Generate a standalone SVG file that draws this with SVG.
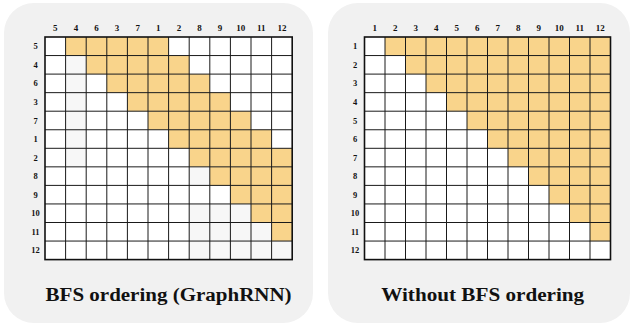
<svg xmlns="http://www.w3.org/2000/svg" width="631" height="324" viewBox="0 0 631 324">
<style>
.bg{fill:#f1f1f1}
.org{fill:#f9d48b}
.gry{fill:#f7f7f7}
.cell{fill:#ffffff}
.grid{fill:none;stroke:#1a1a1a;stroke-width:1}
.frame{fill:none;stroke:#111;stroke-width:1.6}
.lbl{font-family:"Liberation Serif","Times New Roman",serif;font-weight:bold;font-size:9px;fill:#111;text-anchor:middle}
.rl{font-size:8.5px}
.title{font-family:"Liberation Serif","Times New Roman",serif;font-weight:bold;font-size:18px;fill:#111;text-anchor:middle}
</style>
<g id="panel-bfs">
<rect class="bg" x="4" y="3" width="309" height="320" rx="30"/>
<rect class="cell" x="45" y="37" width="247.2" height="222.6"/>
<g id="bfs-orange">
<rect class="org" x="65.6" y="37" width="103" height="18.55"/>
<rect class="org" x="86.2" y="55.55" width="103" height="18.55"/>
<rect class="org" x="106.8" y="74.1" width="103" height="18.55"/>
<rect class="org" x="127.4" y="92.65" width="103" height="18.55"/>
<rect class="org" x="148" y="111.2" width="103" height="18.55"/>
<rect class="org" x="168.6" y="129.75" width="103" height="18.55"/>
<rect class="org" x="189.2" y="148.3" width="103" height="18.55"/>
<rect class="org" x="209.8" y="166.85" width="82.4" height="18.55"/>
<rect class="org" x="230.4" y="185.4" width="61.8" height="18.55"/>
<rect class="org" x="251" y="203.95" width="41.2" height="18.55"/>
<rect class="org" x="271.6" y="222.5" width="20.6" height="18.55"/>
</g>
<g id="bfs-grey">
<rect class="gry" x="65.6" y="55.55" width="20.6" height="111.3"/>
<rect class="gry" x="189.2" y="166.85" width="20.6" height="18.55"/>
<rect class="gry" x="189.2" y="203.95" width="61.8" height="18.55"/>
<rect class="gry" x="189.2" y="222.5" width="82.4" height="18.55"/>
<rect class="gry" x="189.2" y="241.05" width="103" height="18.55"/>
</g>
<path class="grid" d="M65.6 37V259.6M86.2 37V259.6M106.8 37V259.6M127.4 37V259.6M148 37V259.6M168.6 37V259.6M189.2 37V259.6M209.8 37V259.6M230.4 37V259.6M251 37V259.6M271.6 37V259.6M45 55.55H292.2M45 74.1H292.2M45 92.65H292.2M45 111.2H292.2M45 129.75H292.2M45 148.3H292.2M45 166.85H292.2M45 185.4H292.2M45 203.95H292.2M45 222.5H292.2M45 241.05H292.2"/>
<rect class="frame" x="45" y="37" width="247.2" height="222.6"/>
<g id="bfs-col-labels" class="lbl">
<text x="55.3" y="30.5">5</text><text x="75.9" y="30.5">4</text><text x="96.5" y="30.5">6</text><text x="117.1" y="30.5">3</text><text x="137.7" y="30.5">7</text><text x="158.3" y="30.5">1</text><text x="178.9" y="30.5">2</text><text x="199.5" y="30.5">8</text><text x="220.1" y="30.5">9</text><text x="240.7" y="30.5">10</text><text x="261.3" y="30.5">11</text><text x="281.9" y="30.5">12</text>
</g>
<g id="bfs-row-labels" class="lbl rl">
<text x="35.5" y="49.3">5</text><text x="35.5" y="67.8">4</text><text x="35.5" y="86.4">6</text><text x="35.5" y="104.9">3</text><text x="35.5" y="123.5">7</text><text x="35.5" y="142">1</text><text x="35.5" y="160.6">2</text><text x="35.5" y="179.1">8</text><text x="35.5" y="197.7">9</text><text x="35.5" y="216.2">10</text><text x="35.5" y="234.8">11</text><text x="35.5" y="253.3">12</text>
</g>
<text class="title" x="168.6" y="301" textLength="246" lengthAdjust="spacingAndGlyphs">BFS ordering (GraphRNN)</text>
</g>
<g id="panel-nobfs">
<rect class="bg" x="328" y="3" width="302" height="320" rx="30"/>
<rect class="cell" x="364.5" y="37" width="246" height="222.6"/>
<g id="nobfs-orange">
<rect class="org" x="385" y="37" width="225.5" height="18.55"/>
<rect class="org" x="405.5" y="55.55" width="205" height="18.55"/>
<rect class="org" x="426" y="74.1" width="184.5" height="18.55"/>
<rect class="org" x="446.5" y="92.65" width="164" height="18.55"/>
<rect class="org" x="467" y="111.2" width="143.5" height="18.55"/>
<rect class="org" x="487.5" y="129.75" width="123" height="18.55"/>
<rect class="org" x="508" y="148.3" width="102.5" height="18.55"/>
<rect class="org" x="528.5" y="166.85" width="82" height="18.55"/>
<rect class="org" x="549" y="185.4" width="61.5" height="18.55"/>
<rect class="org" x="569.5" y="203.95" width="41" height="18.55"/>
<rect class="org" x="590" y="222.5" width="20.5" height="18.55"/>
</g>
<path class="grid" d="M385 37V259.6M405.5 37V259.6M426 37V259.6M446.5 37V259.6M467 37V259.6M487.5 37V259.6M508 37V259.6M528.5 37V259.6M549 37V259.6M569.5 37V259.6M590 37V259.6M364.5 55.55H610.5M364.5 74.1H610.5M364.5 92.65H610.5M364.5 111.2H610.5M364.5 129.75H610.5M364.5 148.3H610.5M364.5 166.85H610.5M364.5 185.4H610.5M364.5 203.95H610.5M364.5 222.5H610.5M364.5 241.05H610.5"/>
<rect class="frame" x="364.5" y="37" width="246" height="222.6"/>
<g id="nobfs-col-labels" class="lbl">
<text x="374.75" y="30.5">1</text><text x="395.25" y="30.5">2</text><text x="415.75" y="30.5">3</text><text x="436.25" y="30.5">4</text><text x="456.75" y="30.5">5</text><text x="477.25" y="30.5">6</text><text x="497.75" y="30.5">7</text><text x="518.25" y="30.5">8</text><text x="538.75" y="30.5">9</text><text x="559.25" y="30.5">10</text><text x="579.75" y="30.5">11</text><text x="600.25" y="30.5">12</text>
</g>
<g id="nobfs-row-labels" class="lbl rl">
<text x="355" y="49.3">1</text><text x="355" y="67.8">2</text><text x="355" y="86.4">3</text><text x="355" y="104.9">4</text><text x="355" y="123.5">5</text><text x="355" y="142">6</text><text x="355" y="160.6">7</text><text x="355" y="179.1">8</text><text x="355" y="197.7">9</text><text x="355" y="216.2">10</text><text x="355" y="234.8">11</text><text x="355" y="253.3">12</text>
</g>
<text class="title" x="482.7" y="301" textLength="203" lengthAdjust="spacingAndGlyphs">Without BFS ordering</text>
</g>
</svg>
